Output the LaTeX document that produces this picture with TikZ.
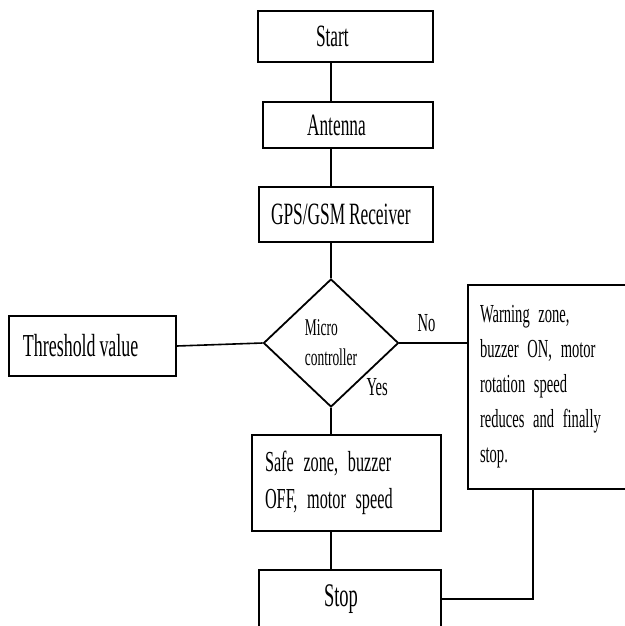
\documentclass[tikz,border=0pt]{standalone}
\usepackage{fontspec}
\setmainfont{Liberation Serif}[FakeStretch=0.56]
\usetikzlibrary{shapes.geometric}
\DeclareRobustCommand\tightspace{\spaceskip=0.12em\xspaceskip=0.15em\relax}

\tikzset{
  stepbox/.style={draw, line width=1.8pt, align=left, inner ysep=0pt},
  tight/.style={execute at begin node=\tightspace},
  decision/.style={draw, diamond, line width=1.8pt, align=left, inner sep=0pt,
    minimum width=135pt, minimum height=128pt},
  link/.style={line width=1.6pt},
  fs/.style={font=\fontsize{#1}{#1}\selectfont},
  fsl/.style 2 args={font=\fontsize{#1}{#2}\selectfont}
}

\begin{document}
\begin{tikzpicture}[x=1pt,y=-1pt]
\useasboundingbox (0,0) rectangle (624,626);

\node[stepbox, fs=31, inner xsep=58pt, text width=59pt, minimum height=51pt] (start) at (345.5,36.5) {Start};
\node[stepbox, fs=31, inner xsep=44pt, text width=82pt, minimum height=46pt] (antenna) at (348,125) {Antenna};
\node[stepbox, tight, fs=31, inner xsep=12pt, text width=150pt, minimum height=55pt] (gps) at (346,214.5) {GPS/GSM Receiver};
\node[decision, fsl={24}{30}] (micro) at (331,343) {Micro\\controller};
\node[stepbox, tight, fs=32, inner xsep=14pt, text width=139pt, minimum height=60pt] (thresh) at (92.5,346) {Threshold value};
\node[stepbox, fsl={26}{35}, inner xsep=12pt, text width=148pt, minimum height=204pt] (warn) at (554,387)
  {Warning zone,\\buzzer ON, motor\\rotation speed\\reduces and finally\\stop.};
\node[stepbox, fsl={29}{37}, inner xsep=13pt, text width=163pt, minimum height=96pt] (safe) at (346.5,483)
  {Safe zone, buzzer\\OFF, motor speed};
\node[stepbox, fs=33, inner xsep=65pt, text width=52pt, minimum height=58pt] (stop) at (350,599) {Stop};

% connectors
\draw[link] (start.south -| micro.north) -- (antenna.north -| micro.north);
\draw[link] (antenna.south -| micro.north) -- (gps.north -| micro.north);
\draw[link] (gps.south -| micro.north) -- (micro.north);
\draw[link] (thresh.east) -- (micro.west);
\draw[link] (micro.east) -- (micro.east -| warn.west) node[above=7pt, pos=0.4, fs=26]{No};
\draw[link] (micro.south) -- (micro.south |- safe.north);
\draw[link] (safe.south -| micro.south) -- (stop.north -| micro.south);
\draw[link] (stop.east) -| ([xshift=-21pt]warn.south);
\node[fs=26] (yes) at ([shift={(12,12)}]micro.south east) {Yes};
\end{tikzpicture}
\end{document}
